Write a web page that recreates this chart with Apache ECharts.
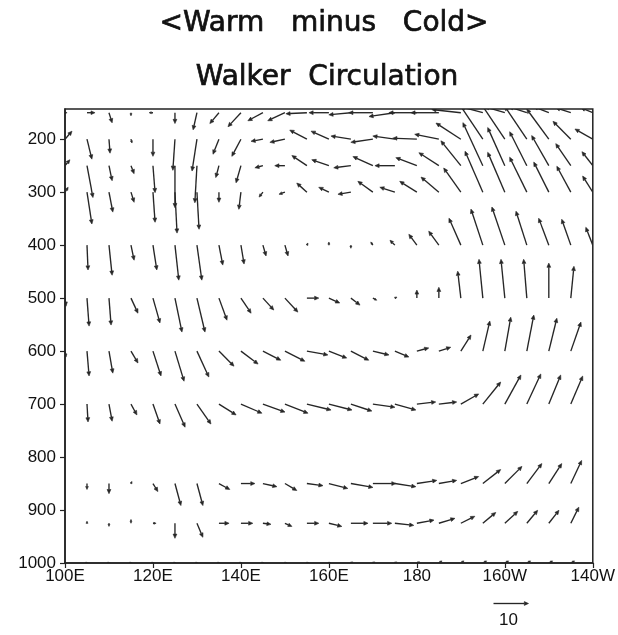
<!DOCTYPE html>
<html>
<head>
<meta charset="utf-8">
<script src="https://cdn.jsdelivr.net/npm/echarts@6/dist/echarts.min.js"></script>
<style>
html,body{margin:0;padding:0;background:#fff;}
#chart{width:618px;height:635px;}
</style>
</head>
<body>
<div id="chart"></div>
<script>
// Longitudes (degrees east; 180-220 = 180, 175W ... 140W)
const lons = [100,105,110,115,120,125,130,135,140,145,150,155,160,165,170,175,180,185,190,195,200,205,210,215,220];
// Pressure levels (hPa)
const levels = [1000,925,850,700,600,500,400,300,250,200,150];
// x tick labels
const xTicks = [100,120,140,160,180,200,220];
const xTickLabels = ['100E','120E','140E','160E','180','160W','140W'];
// y tick labels
const yTicks = [200,300,400,500,600,700,800,900,1000];

// zonal component (reference arrow = 10)
const u1000 = [0,0.3,0.3,0.3,0.3,0.3,0.3,0.3,0.3,0.3,0.6,0.6,0.6,0.6,0.6,0.6,0.9,0.9,0.9,1.1,1.1,1.1,1.1,1.1,0.9];
const u925  = [0,0,0,0,0.9,0,1.7,2.9,3.4,2.3,2.0,3.4,3.7,4.9,5.4,5.4,4.9,4.6,4.0,3.7,3.7,3.1,2.9,2.3,2.0];
const u850  = [0,0,0,0.3,1.4,1.7,1.7,3.1,4.0,4.0,3.4,4.6,5.4,6.3,6.6,6.0,5.7,5.1,5.1,5.1,4.9,4.3,3.7,3.1,2.9];
const u700  = [0,0.3,0.9,1.7,2.0,2.9,4.0,4.9,6.0,6.3,6.6,6.9,6.6,6.0,6.3,6.0,5.4,5.1,5.1,5.1,4.6,4.0,3.4,3.4,2.9];
const u600  = [0.3,0.6,1.1,2.0,2.3,2.6,3.4,4.3,4.9,5.1,5.7,6.0,5.1,5.1,4.6,4.0,3.4,3.4,2.9,2.0,1.7,2.0,2.3,2.9,2.3];
const u500  = [0.3,0.6,0.6,2.0,2.0,2.0,2.3,2.3,2.9,3.1,3.7,3.4,3.1,2.6,1.1,0.6,0,0,-0.9,-1.1,-1.1,-0.9,0,0.9,0.6];
const u400  = [0,0.3,0.9,0.9,1.1,1.1,1.4,1.1,0.9,0.9,0.9,0.3,0,0,-0.6,-1.4,-2.3,-2.9,-3.4,-3.4,-3.7,-3.1,-2.9,-2.6,-2.0];
const u300  = [0.9,1.4,1.1,0.9,0.6,0.6,0.6,0,-0.6,-1.1,-1.7,-2.9,-2.9,-3.7,-4.3,-4.3,-4.9,-5.1,-4.9,-5.1,-4.9,-4.9,-4.3,-4.0,-2.9];
const u250  = [1.4,1.7,0.9,0.9,0.6,0,-0.6,-0.9,-1.4,-2.3,-2.9,-4.3,-4.9,-4.9,-5.7,-5.7,-6.0,-5.7,-5.7,-5.7,-4.9,-4.9,-4.9,-4.3,-3.1];
const u200  = [2.0,1.4,0.3,0.3,0,-0.6,-1.4,-1.7,-2.6,-3.4,-4.3,-4.9,-5.1,-5.7,-6.3,-6.3,-6.9,-6.9,-7.1,-6.9,-6.9,-6.3,-6.3,-5.1,-5.1];
const u150  = [0.6,2.3,0.9,0,-1.1,0,-1.1,-2.6,-3.7,-4.3,-4.9,-6.0,-5.7,-6.3,-6.9,-7.4,-8.0,-8.0,-8.3,-6.3,-5.7,-5.1,-4.3,-4.3,-3.4];

// vertical component (scaled omega, upward positive)
const w1000 = [0,0,0,0,0,0,0,0,0,0,0,0,0,0.3,0.3,0.3,0.3,0.6,0.6,0.6,0.6,0.6,0.6,0.6,0.3];
const w925  = [0,0.6,-0.9,1.1,0,-4.3,-4.0,0,0,-0.3,-0.9,0,-0.9,0,0,-0.6,0.9,1.4,2.0,3.1,3.4,3.7,3.7,4.6,3.4];
const w850  = [0,-1.7,-2.9,0.6,-2.3,-6.3,-6.3,-1.7,0,-0.9,-2.0,-0.6,-1.4,-1.1,0,-0.9,0.9,0.9,2.0,4.0,4.9,5.7,5.7,6.6,5.7];
const w700  = [0,-5.1,-4.9,-3.1,-5.7,-6.6,-5.7,-3.1,-2.6,-2.3,-2.6,-1.7,-1.7,-2.0,-0.9,-1.7,0.6,0.6,2.9,6.3,8.3,8.6,8.3,8.0,7.1];
const w600  = [-1.7,-7.1,-6.3,-3.4,-7.1,-8.6,-7.4,-4.3,-3.7,-2.6,-2.9,-1.1,-2.0,-2.6,-1.1,-1.7,0.9,1.1,4.6,8.6,9.7,10.3,9.4,8.3,7.1];
const w500  = [-2.3,-8.0,-7.7,-4.3,-7.1,-9.7,-9.7,-6.3,-4.3,-3.4,-4.0,0,-1.4,-2.0,-0.6,0.3,2.3,3.1,7.7,11.1,11.1,11.1,10.0,9.1,8.6];
const w400  = [0,-7.1,-8.6,-4.3,-7.1,-10.0,-10.0,-5.7,-5.4,-3.1,-3.1,0.6,0.9,-0.9,0.9,1.4,3.1,4.0,7.7,10.3,10.9,9.7,7.7,7.4,5.1];
const w300  = [1.4,-9.1,-5.7,-2.9,-8.6,-11.7,-10.6,-2.9,-4.9,-1.4,-0.6,2.6,1.4,-0.6,3.1,1.4,3.1,4.3,6.9,11.7,11.4,10.0,8.6,7.4,4.6];
const w250  = [1.7,-9.1,-4.3,-2.3,-7.7,-12.0,-10.6,-3.4,-4.9,-0.6,0,2.9,1.7,-0.6,2.6,0,2.3,3.7,7.1,12.3,10.9,9.7,8.6,6.3,4.0];
const w200  = [2.3,-5.7,-4.0,-1.1,-4.9,-8.9,-9.1,-4.3,-4.9,-0.6,-0.9,2.6,2.3,0.9,-0.9,0.9,0.3,1.4,4.6,10.3,10.3,9.4,8.6,5.1,2.9];
const w150  = [0,0,-2.9,-0.9,0,-3.1,-4.9,-3.1,-4.0,-2.3,-2.3,-0.3,0,-0.6,0,-1.1,0,0,0.9,1.7,1.7,1.7,1.7,1.4,1.4];

const uRows = [u1000,u925,u850,u700,u600,u500,u400,u300,u250,u200,u150];
const wRows = [w1000,w925,w850,w700,w600,w500,w400,w300,w250,w200,w150];
const refValue = 10;

const data = [];
levels.forEach((lev, i) => {
  lons.forEach((lon, j) => {
    data.push([lon, lev, uRows[i][j], wRows[i][j]]);
  });
});

const PX_PER_UNIT = 3.5;
const COLOR = '#262626';

function arrowShapes(x0, y0, x1, y1) {
  const dx = x1 - x0, dy = y1 - y0;
  const len = Math.hypot(dx, dy);
  if (len < 0.6) return [];
  const ux = dx / len, uy = dy / len;
  const h = Math.min(4.2, Math.max(2.2, len * 0.5));
  const bw = h * 0.45;
  const bx = x1 - ux * h, by = y1 - uy * h;
  return [
    { type: 'line', shape: { x1: x0, y1: y0, x2: bx, y2: by },
      style: { stroke: COLOR, lineWidth: 1.35 } },
    { type: 'polygon', shape: { points: [[x1, y1], [bx - uy * bw, by + ux * bw], [bx + uy * bw, by - ux * bw]] },
      style: { fill: COLOR, stroke: COLOR, lineWidth: 0.6 } }
  ];
}

const chart = echarts.init(document.getElementById('chart'), null, { renderer: 'canvas' });

const titleStyle = { fontFamily: 'DejaVu Sans', fontSize: 28, fill: '#111', stroke: '#111', lineWidth: 0.7, align: 'center' };

const option = {
  backgroundColor: '#fff',
  animation: false,
  grid: { left: 65, right: 24, top: 109, bottom: 72, show: true, borderColor: '#222', borderWidth: 1.5, backgroundColor: 'transparent' },
  xAxis: {
    type: 'value', min: 100, max: 220, interval: 20,
    axisLine: { show: true, lineStyle: { color: '#222', width: 1.5 } },
    axisTick: { show: true, length: 5, lineStyle: { color: '#222', width: 1.2 } },
    splitLine: { show: false },
    axisLabel: {
      color: '#111', fontFamily: 'Liberation Sans', fontSize: 17, margin: 5,
      formatter: v => { const k = xTicks.indexOf(v); return k >= 0 ? xTickLabels[k] : ''; }
    }
  },
  yAxis: {
    type: 'value', inverse: true, min: 143, max: 1000,
    axisLine: { show: true, lineStyle: { color: '#222', width: 1.5 } },
    axisTick: { show: true, length: 5, customValues: yTicks, lineStyle: { color: '#222', width: 1.2 } },
    splitLine: { show: false },
    axisLabel: { color: '#111', fontFamily: 'Liberation Sans', fontSize: 17, margin: 9, customValues: yTicks,
      formatter: v => String(v) }
  },
  series: [{
    type: 'custom',
    clip: true,
    data: data,
    renderItem: (params, api) => {
      const lon = api.value(0), lev = api.value(1), u = api.value(2), w = api.value(3);
      const p0 = api.coord([lon, lev]);
      const p1 = [p0[0] + u * PX_PER_UNIT, p0[1] - w * PX_PER_UNIT];
      const children = arrowShapes(p0[0], p0[1], p1[0], p1[1]);
      if (!children.length) return null;
      return { type: 'group', children: children };
    }
  }],
  graphic: [
    { type: 'text', x: 324, y: 10,
      style: Object.assign({ text: '<Warm   minus   Cold>' }, titleStyle) },
    { type: 'text', x: 327, y: 64,
      style: Object.assign({ text: 'Walker  Circulation' }, titleStyle) },
    { type: 'group', left: 491, top: 601,
      children: arrowShapes(0, 3, refValue * PX_PER_UNIT, 3) },
    { type: 'text', left: 499, top: 612,
      style: { text: String(refValue), fontFamily: 'Liberation Sans', fontSize: 17, fill: '#111' } }
  ]
};
chart.setOption(option);
</script>
</body>
</html>
